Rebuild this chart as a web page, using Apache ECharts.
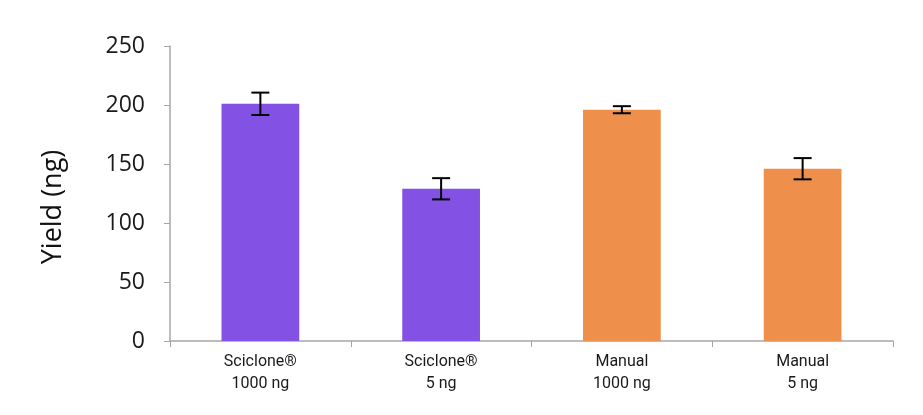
<!DOCTYPE html>
<html><head><meta charset="utf-8">
<script src="https://cdn.jsdelivr.net/npm/echarts@6/dist/echarts.min.js"></script>
<style>html,body{margin:0;padding:0;background:#fff}#c{width:923px;height:415px}</style>
</head><body><div id="c"></div>
<script>
const categories = ["Sciclone®\n1000 ng", "Sciclone®\n5 ng", "Manual\n1000 ng", "Manual\n5 ng"];
const yields = [201, 129, 196, 146];
const errors = [9.5, 9, 3, 9];
const barColors = ["#8352E5", "#8352E5", "#EF8F4C", "#EF8F4C"];
const yTicks = [0, 50, 100, 150, 200, 250];
const yTitle = 'Yield (ng)';

const chart = echarts.init(document.getElementById('c'));
chart.setOption({
  animation: false,
  grid: {left: 170, right: 30, top: 46, bottom: 74},
  graphic: [{
    type: 'text', x: 53, y: 207, rotation: Math.PI / 2,
    style: {text: yTitle, fontFamily: 'Open Sans, sans-serif', fontSize: 27, fill: '#111', align: 'center', verticalAlign: 'middle'}
  }],
  xAxis: {
    type: 'category', data: categories,
    axisLine: {lineStyle: {color: '#A6A6A6', width: 1.5}},
    axisTick: {show: true, length: 6, lineStyle: {color: '#A6A6A6'}},
    axisLabel: {fontFamily: 'Roboto, sans-serif', fontSize: 16, color: '#1a1a1a', lineHeight: 22, margin: 10}
  },
  yAxis: {
    type: 'value', min: yTicks[0], max: yTicks[yTicks.length-1], interval: 50,
    axisLine: {show: true, lineStyle: {color: '#A6A6A6', width: 1.5}},
    axisTick: {show: true, length: 6, lineStyle: {color: '#A6A6A6'}},
    splitLine: {show: false},
    axisLabel: {fontFamily: 'Open Sans, sans-serif', fontSize: 23, color: '#1a1a1a', margin: 25}
  },
  series: [{
    type: 'bar', barWidth: '43%',
    data: yields.map((v, i) => ({value: v, itemStyle: {color: barColors[i]}}))
  }, {
    type: 'custom', z: 10,
    data: yields.map((v, i) => [i, v - errors[i], v + errors[i]]),
    renderItem: function (params, api) {
      const lo = api.coord([api.value(0), api.value(1)]);
      const hi = api.coord([api.value(0), api.value(2)]);
      const hw = 9;
      const st = {stroke: '#000', lineWidth: 2};
      return {type: 'group', children: [
        {type: 'line', shape: {x1: hi[0], y1: hi[1], x2: lo[0], y2: lo[1]}, style: st},
        {type: 'line', shape: {x1: hi[0]-hw, y1: hi[1], x2: hi[0]+hw, y2: hi[1]}, style: st},
        {type: 'line', shape: {x1: lo[0]-hw, y1: lo[1], x2: lo[0]+hw, y2: lo[1]}, style: st}
      ]};
    }
  }]
});
</script></body></html>
